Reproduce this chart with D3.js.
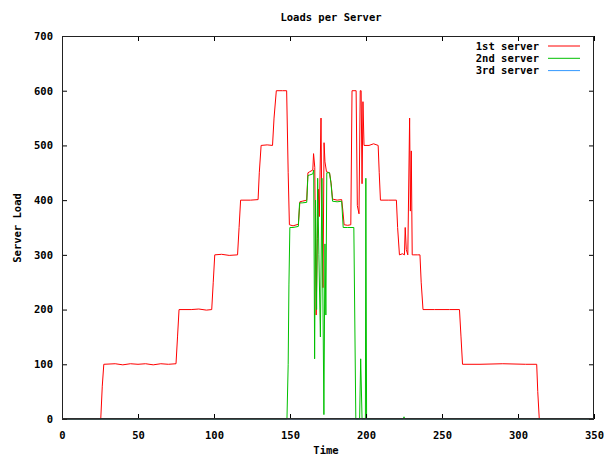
<!DOCTYPE html>
<html>
<head>
<meta charset="utf-8">
<script src="https://cdn.jsdelivr.net/npm/d3@7"></script>
<style>
  html, body { margin: 0; padding: 0; background: #fff; }
  text { font-family: "DejaVu Sans Mono", monospace; font-weight: bold; font-size: 10.5px; fill: #000; }
</style>
</head>
<body>
<svg id="chart" width="604" height="455"></svg>
<script>
// ---- data ----
const xTicks = [0, 50, 100, 150, 200, 250, 300, 350];
const yTicks = [0, 100, 200, 300, 400, 500, 600, 700];
const seriesNames = ["1st server", "2nd server", "3rd server"];

const time1 = [0,25.5,26.5,27.5,35,40,45,50,55,60,65,70,75,76,77,85,90,95,98.5,99.5,100.5,105,110,115.5,116.5,117.5,124,129,129.8,131,135,138.5,139.5,141,145,147.8,148.8,149.6,152,155.5,156.5,158,161,161.8,163,165,165.5,166.3,167.2,168,168.6,169.3,170.4,171,171.7,172.4,173,174,176,177,178,181,184,184.8,185.6,188,190,190.8,193.5,194.3,195.4,196.2,196.8,197.4,198,198.7,202,205,208,208.7,209.5,215,220,220.8,222,224,225.3,225.8,226.5,227.5,228.7,229.2,229.8,230.4,231,234,235.5,236.3,237.5,245,255,261.5,262.5,263.5,275,290,305,312.3,313,314,350];
const load1 = [0,0,60,100,101,99,101,100,101,99,101,100,101,150,200,200,201,199,200,250,300,301,299,300,350,400,400,401,450,500,501,500,550,600,600,600,450,355,353,356,397,398,400,450,452,455,485,460,190,330,420,370,550,360,240,505,470,452,450,432,402,400,401,380,355,354,355,600,600,390,375,600,600,430,580,500,500,503,500,450,400,400,400,350,300,302,300,350,310,300,550,380,490,300,300,300,300,250,200,200,200,200,150,100,100,101,100,100,50,0,0];

const time2 = [0,148,148.8,149.3,149.9,152,155.5,156.3,158,161,161.8,163,165,165.6,166.2,166.8,167.5,168.2,169,170,171,172.3,173,173.6,174.2,176,177,178,181,184,185,188,192,193.3,195.8,196.5,197.4,199.6,199.9,200.4,224.5,225,225.5,350];
const load2 = [0,0,100,245,350,350,352,395,395,396,445,446,448,455,110,400,200,440,300,150,440,8,320,190,450,450,430,398,397,398,350,350,350,0,0,110,0,0,440,0,0,4,0,0];

const time3 = [0, 100, 200, 300, 350];
const load3 = [0, 0, 0, 0, 0];

const colors = ["#ff0000", "#00c000", "#3399ff"];

// ---- chart ----
const svg = d3.select("#chart");
const L = 62, R = 594, T = 36, B = 419;
const x = d3.scaleLinear().domain([0, 350]).range([L, R]);
const y = d3.scaleLinear().domain([0, 700]).range([B, T]);

const series = [
  { name: seriesNames[0], t: time1, v: load1, c: colors[0] },
  { name: seriesNames[1], t: time2, v: load2, c: colors[1] },
  { name: seriesNames[2], t: time3, v: load3, c: colors[2] }
];

const line = d3.line().x(d => x(d[0])).y(d => y(d[1]));
series.forEach(s => {
  const pts = s.t.map((t, i) => [t, s.v[i]]);
  svg.append("path").datum(pts)
    .attr("d", line)
    .attr("fill", "none")
    .attr("stroke", s.c)
    .attr("stroke-width", 1);
});

// axes (ticks inside, mirrored)
const fmt = d3.format("d");
const gx = svg.append("g").attr("transform", `translate(0,${B})`)
  .call(d3.axisBottom(x).tickValues(xTicks).tickFormat(fmt).tickSizeInner(-5).tickSizeOuter(0).tickPadding(13));
const gxt = svg.append("g").attr("transform", `translate(0,${T})`)
  .call(d3.axisTop(x).tickValues(xTicks).tickFormat("").tickSizeInner(-5).tickSizeOuter(0));
const gy = svg.append("g").attr("transform", `translate(${L},0)`)
  .call(d3.axisLeft(y).tickValues(yTicks).tickFormat(fmt).tickSizeInner(-5).tickSizeOuter(0).tickPadding(9));
const gyr = svg.append("g").attr("transform", `translate(${R},0)`)
  .call(d3.axisRight(y).tickValues(yTicks).tickFormat("").tickSizeInner(-5).tickSizeOuter(0));

[gx, gxt, gy, gyr].forEach(g => {
  g.selectAll("path.domain").remove();
  g.selectAll(".tick line").attr("stroke", "#000");
  g.selectAll(".tick text").style("font-family", "DejaVu Sans Mono, monospace")
    .style("font-weight", "bold").style("font-size", "10.5px").attr("fill", "#000");
});
// hide end ticks that coincide with the border corners
svg.append("rect").attr("x", L + 0.5).attr("y", T + 0.5)
  .attr("width", R - L - 1).attr("height", B - T - 1)
  .attr("fill", "none").attr("stroke", "#222").attr("stroke-width", 1);
svg.append("line").attr("x1", L).attr("x2", R).attr("y1", B).attr("y2", B)
  .attr("stroke", "#333").attr("stroke-width", 1.5);

// titles
svg.append("text").attr("x", 331).attr("y", 21).attr("text-anchor", "middle").text("Loads per Server");
svg.append("text").attr("x", 326).attr("y", 454).attr("text-anchor", "middle").text("Time");
svg.append("text").attr("transform", "translate(21,228) rotate(-90)").attr("text-anchor", "middle").text("Server Load");

// legend
series.forEach((s, i) => {
  const ly = 46 + i * 12.3;
  svg.append("text").attr("x", 539).attr("y", ly).attr("dy", "0.35em").attr("text-anchor", "end").text(s.name);
  svg.append("line").attr("x1", 548).attr("x2", 580).attr("y1", ly).attr("y2", ly)
    .attr("stroke", s.c).attr("stroke-width", 1);
});
</script>
</body>
</html>
